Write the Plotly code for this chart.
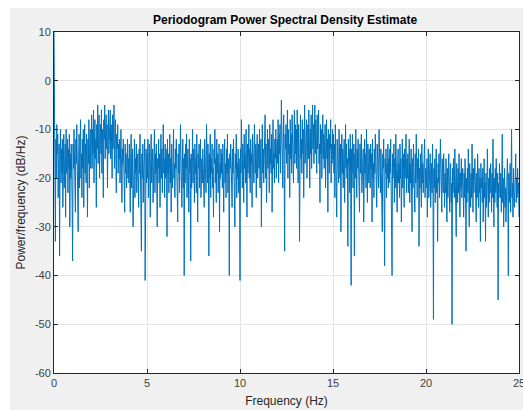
import numpy as np
import plotly.graph_objects as go

title = "Periodogram Power Spectral Density Estimate"
x_label = "Frequency (Hz)"
y_label = "Power/frequency (dB/Hz)"
x_ticks = [0, 5, 10, 15, 20, 25]
y_ticks = [-60, -50, -40, -30, -20, -10, 0, 10]
y_tick_labels = ["-60", "-50", "-40", "-30", "-20", "-10", "0", "10"]

# PSD values (dB/Hz), 0.025 Hz apart, 0..25 Hz (one row per Hz)
psd_db = [
    10, -8, -14, -33, -12, -20, -9, -15, -11, -24, -18, -13, -36, -16, -10, -21, -14, -19, -12, -26,
    -15, -11, -22, -17, -13, -28, -10, -19, -16, -12, -23, -14, -18, -11, -30, -15, -20, -13, -17, -25,
    -37, -13, -18, -10, -21, -15, -27, -12, -17, -9, -19, -14, -31, -16, -11, -22, -13, -8, -20, -15,
    -24, -12, -18, -10, -26, -14, -9, -19, -13, -21, -11, -16, -28, -12, -17, -8, -22, -14, -10, -18,
    -13, -7, -18, -10, -15, -6, -21, -11, -8, -16, -12, -26, -9, -14, -5, -17, -11, -7, -20, -13,
    -9, -15, -6, -19, -10, -13, -24, -8, -12, -5, -16, -11, -7, -14, -9, -22, -12, -6, -15, -10,
    -11, -6, -16, -9, -13, -20, -7, -14, -10, -5, -18, -12, -8, -15, -23, -11, -14, -9, -19, -13,
    -16, -12, -21, -15, -10, -18, -25, -14, -17, -12, -20, -16, -27, -13, -19, -15, -22, -18, -12, -20,
    -16, -21, -13, -19, -27, -15, -11, -22, -18, -14, -30, -17, -20, -12, -24, -16, -19, -13, -23, -18,
    -15, -21, -26, -14, -19, -11, -22, -17, -35, -15, -20, -13, -25, -18, -16, -12, -41, -19, -14, -21,
    -15, -20, -12, -24, -17, -13, -19, -28, -16, -11, -21, -18, -14, -25, -17, -20, -10, -23, -15, -19,
    -13, -22, -30, -16, -18, -12, -21, -15, -26, -17, -11, -20, -14, -23, -18, -9, -19, -16, -24, -13,
    -20, -14, -17, -32, -12, -19, -15, -23, -18, -11, -21, -16, -27, -13, -19, -22, -15, -10, -20, -17,
    -24, -14, -18, -12, -21, -16, -29, -15, -19, -13, -23, -17, -9, -20, -14, -26, -18, -12, -22, -16,
    -40, -15, -21, -13, -18, -11, -24, -17, -14, -20, -27, -12, -19, -16, -37, -15, -22, -18, -10, -21,
    -14, -17, -25, -13, -19, -16, -23, -11, -20, -29, -15, -18, -13, -22, -17, -12, -24, -19, -16, -21,
    -14, -20, -17, -26, -12, -19, -15, -23, -9, -18, -21, -13, -17, -36, -15, -20, -11, -24, -16, -19,
    -13, -22, -18, -28, -14, -17, -10, -21, -16, -25, -12, -19, -15, -23, -18, -13, -31, -17, -20, -14,
    -19, -15, -22, -13, -18, -27, -16, -12, -21, -17, -24, -14, -19, -11, -23, -16, -20, -40, -15, -18,
    -13, -22, -17, -26, -14, -19, -12, -21, -16, -30, -15, -18, -11, -24, -17, -20, -14, -23, -16, -19,
    -41, -14, -19, -8, -17, -22, -13, -16, -25, -11, -18, -15, -21, -10, -17, -28, -13, -19, -16, -9,
    -20, -14, -23, -12, -17, -15, -26, -11, -18, -14, -21, -9, -16, -19, -13, -24, -15, -11, -20, -17,
    -13, -18, -10, -22, -15, -12, -30, -17, -9, -19, -14, -21, -11, -16, -7, -20, -13, -25, -15, -10,
    -18, -12, -16, -23, -9, -17, -14, -19, -11, -27, -13, -8, -18, -15, -21, -12, -16, -10, -20, -14,
    -12, -17, -8, -21, -11, -15, -9, -19, -13, -4, -16, -10, -22, -12, -7, -18, -35, -11, -14, -9,
    -17, -12, -6, -20, -10, -15, -13, -24, -8, -16, -11, -19, -7, -14, -10, -21, -12, -6, -17, -9,
    -15, -10, -18, -6, -13, -21, -9, -14, -33, -11, -7, -16, -12, -19, -8, -15, -10, -24, -13, -5,
    -17, -11, -14, -8, -20, -12, -9, -16, -6, -13, -22, -10, -15, -7, -18, -11, -5, -14, -9, -17,
    -10, -5, -15, -8, -12, -19, -7, -14, -11, -6, -17, -13, -25, -9, -15, -10, -20, -12, -7, -16,
    -11, -18, -14, -9, -22, -13, -8, -16, -12, -27, -10, -15, -19, -11, -14, -8, -21, -13, -17, -10,
    -16, -11, -19, -13, -24, -9, -17, -14, -28, -12, -18, -15, -21, -10, -16, -20, -13, -31, -15, -11,
    -19, -14, -22, -17, -12, -25, -15, -9, -18, -13, -20, -16, -34, -12, -17, -14, -23, -11, -19, -42,
    -14, -19, -11, -22, -16, -13, -36, -15, -20, -10, -17, -24, -14, -18, -12, -21, -16, -27, -13, -19,
    -15, -11, -23, -17, -20, -14, -29, -16, -12, -19, -15, -22, -10, -18, -25, -13, -17, -21, -14, -19,
    -22, -13, -18, -15, -29, -12, -20, -17, -24, -14, -19, -11, -21, -16, -26, -13, -18, -15, -22, -10,
    -19, -16, -23, -14, -20, -17, -31, -15, -18, -12, -21, -38, -16, -19, -14, -24, -17, -20, -13, -22,
    -16, -21, -14, -19, -12, -23, -17, -40, -15, -20, -18, -13, -25, -16, -22, -11, -19, -15, -27, -18,
    -14, -21, -17, -24, -13, -20, -16, -29, -19, -12, -22, -15, -18, -26, -14, -20, -17, -11, -23, -16,
    -20, -15, -23, -18, -12, -25, -17, -21, -14, -19, -31, -16, -22, -13, -20, -18, -27, -15, -21, -11,
    -19, -24, -16, -20, -14, -34, -18, -22, -15, -19, -26, -13, -21, -17, -23, -16, -20, -12, -24, -18,
    -19, -22, -16, -28, -20, -14, -24, -18, -21, -15, -26, -19, -17, -23, -13, -21, -49, -18, -22, -16,
    -25, -19, -14, -23, -20, -33, -17, -21, -15, -24, -19, -12, -22, -18, -27, -16, -20, -23, -15, -21,
    -26, -19, -23, -16, -21, -29, -18, -24, -20, -15, -22, -27, -19, -17, -25, -21, -50, -18, -23, -16,
    -20, -24, -14, -22, -19, -32, -17, -21, -25, -18, -23, -15, -20, -28, -19, -22, -16, -24, -21, -18,
    -22, -28, -19, -24, -16, -21, -35, -20, -25, -18, -23, -14, -21, -30, -17, -22, -26, -19, -24, -13,
    -21, -27, -18, -23, -20, -16, -25, -22, -29, -19, -24, -15, -21, -26, -18, -23, -20, -33, -17, -22,
    -20, -25, -18, -29, -22, -16, -24, -21, -33, -19, -26, -23, -14, -21, -28, -20, -25, -18, -23, -17,
    -22, -27, -19, -24, -12, -21, -30, -20, -25, -18, -23, -16, -22, -26, -19, -45, -21, -24, -17, -22,
    -24, -19, -27, -21, -11, -25, -20, -30, -23, -18, -26, -22, -29, -20, -24, -16, -21, -40, -19, -25,
    -22, -17, -27, -20, -10, -24, -21, -28, -18, -23, -26, -19, -22, -15, -25, -20, -24, -18, -23, -21,
    -28,
]
freq_hz = np.linspace(0, 25, len(psd_db))

fig = go.Figure()
fig.add_trace(go.Scatter(
    x=freq_hz, y=psd_db, mode="lines",
    line=dict(color="#0072BD", width=1.0),
    showlegend=False, hoverinfo="skip",
))

font_family = "Liberation Sans, Arial, sans-serif"
axis_common = dict(
    showline=True, linecolor="#262626", linewidth=1, mirror="ticks",
    ticks="inside", ticklen=4, tickcolor="#262626",
    showgrid=True, gridcolor="#e3e3e3", gridwidth=1,
    zeroline=False, ticklabeloverflow="allow",
    tickfont=dict(family=font_family, size=11, color="#404040"),
)

fig.update_xaxes(
    range=[0, 25], tickvals=x_ticks, ticktext=[str(t) for t in x_ticks],
    title=dict(text=x_label, standoff=8, font=dict(family=font_family, size=12, color="#262626")),
    **axis_common,
)
fig.update_yaxes(
    range=[-60, 10], tickvals=y_ticks, ticktext=y_tick_labels,
    title=dict(text=y_label, standoff=6, font=dict(family=font_family, size=12, color="#262626")),
    **axis_common,
)

fig.update_layout(
    width=523, height=410,
    margin=dict(l=54, r=4, t=32, b=37, autoexpand=False),
    paper_bgcolor="#f0f0f0", plot_bgcolor="#ffffff",
    title=dict(text="<b>" + title + "</b>", x=0.545, xanchor="center", y=0.952, yanchor="middle",
               font=dict(family=font_family, size=12, color="#000000")),
    shapes=[
        dict(type="rect", xref="paper", yref="paper", x0=-0.2, x1=1.1, y0=1.0704, y1=1.2,
             fillcolor="#ffffff", line=dict(width=0), layer="below"),
        dict(type="rect", xref="paper", yref="paper", x0=-0.2, x1=-0.0946, y0=-0.2, y1=1.2,
             fillcolor="#ffffff", line=dict(width=0), layer="below"),
    ],
)

fig.write_html("out.html", config={"displayModeBar": False},
               post_script="document.body.style.margin='0';")
